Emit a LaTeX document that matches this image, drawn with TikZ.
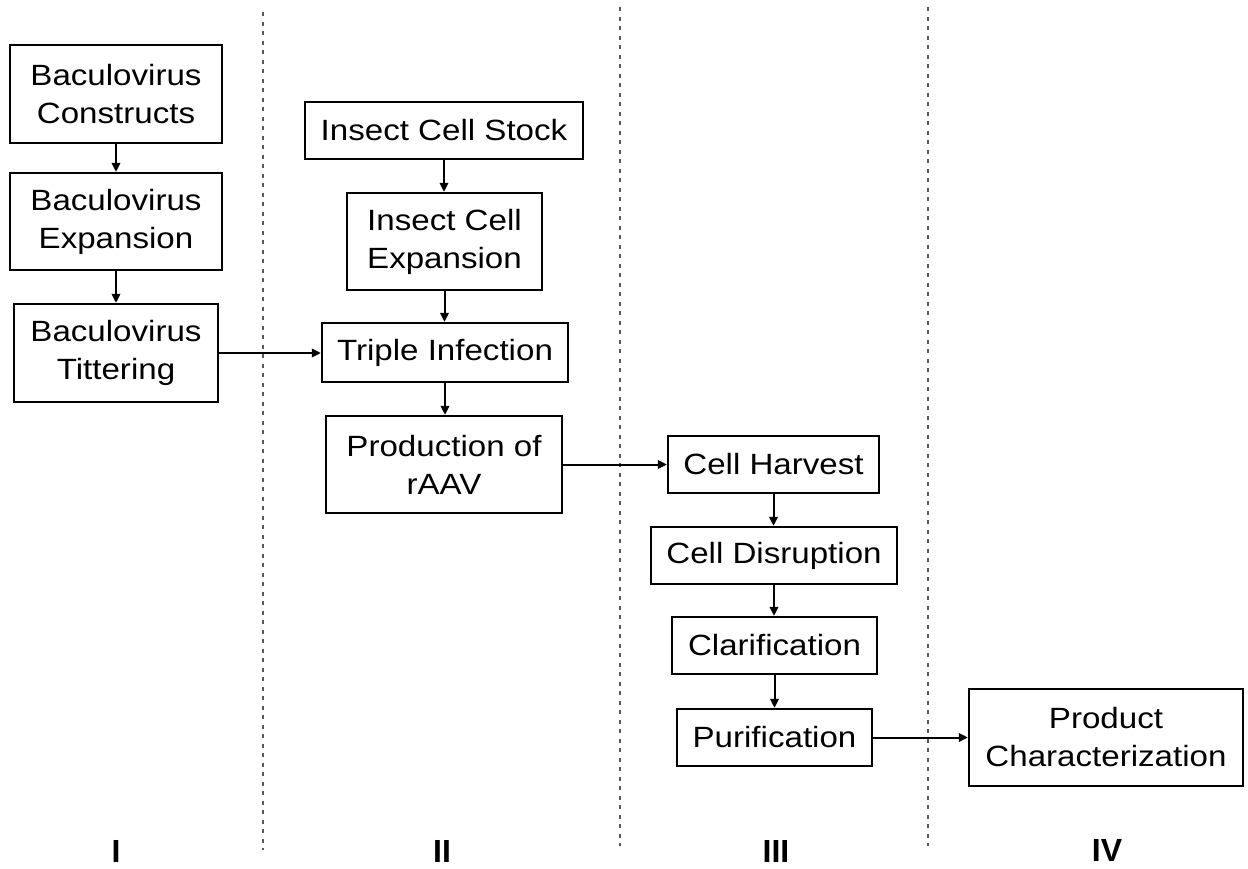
\documentclass[tikz,border=0pt]{standalone}
\usepackage{fontspec}
\setmainfont{Liberation Sans}[FakeStretch=1.13]
\newfontfamily\labfont{Liberation Sans}
\usetikzlibrary{arrows.meta}
\tikzset{
  box/.style={draw=black, line width=2.3pt, align=center, inner sep=0pt,
    font=\fontsize{29.3}{38}\selectfont},
  arr/.style={line width=2pt, -{Triangle[length=9pt,width=8.5pt]}},
  sep/.style={draw=black!65, line width=1.2pt, dash pattern=on 4pt off 5.5pt},
  lab/.style={font=\labfont\fontsize{32}{32}\bfseries\selectfont, anchor=base, inner sep=0pt}
}
\begin{document}
\begin{tikzpicture}[x=1pt,y=-1pt]
\useasboundingbox (0,0) rectangle (1248,868);
% separators
\draw[sep] (263,12) -- (263,850);
\draw[sep] (620,7) -- (620,846);
\draw[sep] (928,7) -- (928,846);
% column I
\node[box, minimum width=212pt, minimum height=98pt] (c1) at (116,94) {Baculovirus\\Constructs};
\node[box, minimum width=212pt, minimum height=97pt] (c2) at (116,221.5) {Baculovirus\\Expansion};
\node[box, minimum width=204pt, minimum height=98pt] (c3) at (116,353) {Baculovirus\\Tittering};
% column II
\node[box, minimum width=278pt, minimum height=57pt] (s1) at (444,130.5) {Insect Cell Stock};
\node[box, minimum width=195pt, minimum height=97pt] (s2) at (444.5,241.5) {Insect Cell\\Expansion};
\node[box, minimum width=246pt, minimum height=59pt] (s3) at (445,352.5) {Triple Infection};
\node[box, minimum width=236pt, minimum height=97pt] (s4) at (444,464.5) {Production of\\rAAV};
% column III
\node[box, minimum width=211pt, minimum height=57pt] (h1) at (773.5,464.5) {Cell Harvest};
\node[box, minimum width=246pt, minimum height=57pt] (h2) at (774,555.5) {Cell Disruption};
\node[box, minimum width=205pt, minimum height=57pt] (h3) at (774.5,645.5) {Clarification};
\node[box, minimum width=195pt, minimum height=57pt] (h4) at (774.5,737.5) {Purification};
% column IV
\node[box, minimum width=274pt, minimum height=97pt] (p) at (1106,737.5) {Product\\Characterization};
% connectors
\draw[arr] (c1.south) -- (c2.north);
\draw[arr] (c2.south) -- (c3.north);
\draw[arr] (s1.south) -- (s1.south |- s2.north);
\draw[arr] (s2.south) -- (s2.south |- s3.north);
\draw[arr] (s3.south) -- (s3.south |- s4.north);
\draw[arr] (c3.east) -- (c3.east -| s3.west);
\draw[arr] (s4.east) -- (s4.east -| h1.west);
\draw[arr] (h1.south) -- (h1.south |- h2.north);
\draw[arr] (h2.south) -- (h2.south |- h3.north);
\draw[arr] (h3.south) -- (h3.south |- h4.north);
\draw[arr] (h4.east) -- (h4.east -| p.west);
% phase labels
\node[lab] (l1) at (116,862) {I};
\node[lab] (l2) at (442,862) {II};
\node[lab] (l3) at (776,862) {III};
\node[lab] (l4) at (1107,861) {IV};
\end{tikzpicture}
\end{document}
